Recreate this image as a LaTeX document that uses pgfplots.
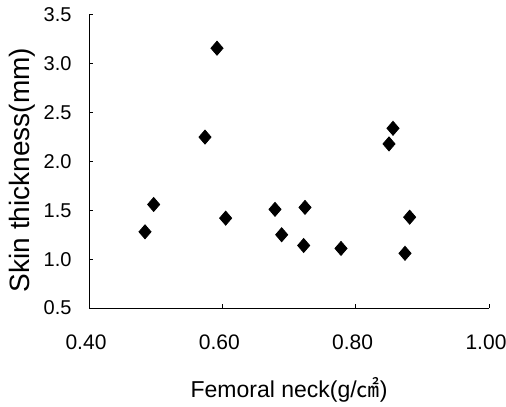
\documentclass[border=0pt]{standalone}
\usepackage{pgfplots}
\pgfplotsset{compat=1.18}
\usepackage{fontspec}
\setmainfont{Liberation Sans}
\newfontfamily\cjk{Noto Sans CJK SC}
\begin{document}
\begin{tikzpicture}
\path[use as bounding box, fill=white] (-44.5pt,-49pt) rectangle (208.5pt,154pt);
\begin{axis}[
  scale only axis,
  width=200pt, height=146.5pt,
  at={(0,0)}, anchor=south west,
  xmin=0.4, xmax=1.0, ymin=0.5, ymax=3.5,
  axis lines=left,
  axis line style={-, line width=0.5pt},
  xtick={0.4,0.6,0.8,1.0},
  ytick={0.5,1.0,1.5,2.0,2.5,3.0,3.5},
  tick align=inside,
  major tick length=2pt,
  tick style={line width=0.5pt, black},
  /pgf/number format/assume math mode=true,
  xticklabel style={/pgf/number format/.cd, fixed, fixed zerofill, precision=2, /tikz/.cd, font=\fontsize{10.5}{12}\selectfont, yshift=-10pt, xshift=-1.5pt},
  yticklabel style={/pgf/number format/.cd, fixed, fixed zerofill, precision=1, /tikz/.cd, font=\fontsize{10}{12}\selectfont, xshift=-5.2pt},
  xlabel={Femoral neck(g/{\cjk ㎠})},
  ylabel={Skin thickness(mm)},
  xlabel style={at={(axis description cs:0.5,0)}, anchor=base, yshift=-44.5pt, font=\fontsize{11.5}{14}\selectfont},
  ylabel style={at={(axis description cs:-0.1475,0.471)}, anchor=base, font=\fontsize{14}{16}\selectfont},
]
\addplot[only marks, mark=diamond*, mark size=3.5pt, mark options={xscale=1.15, fill=black, draw=black}] coordinates {
  (0.484,1.28)
  (0.497,1.56)
  (0.574,2.25)
  (0.592,3.16)
  (0.605,1.42)
  (0.679,1.51)
  (0.689,1.25)
  (0.724,1.53)
  (0.722,1.14)
  (0.778,1.11)
  (0.850,2.18)
  (0.856,2.34)
  (0.881,1.43)
  (0.874,1.06)
};
\end{axis}
\end{tikzpicture}
\end{document}
